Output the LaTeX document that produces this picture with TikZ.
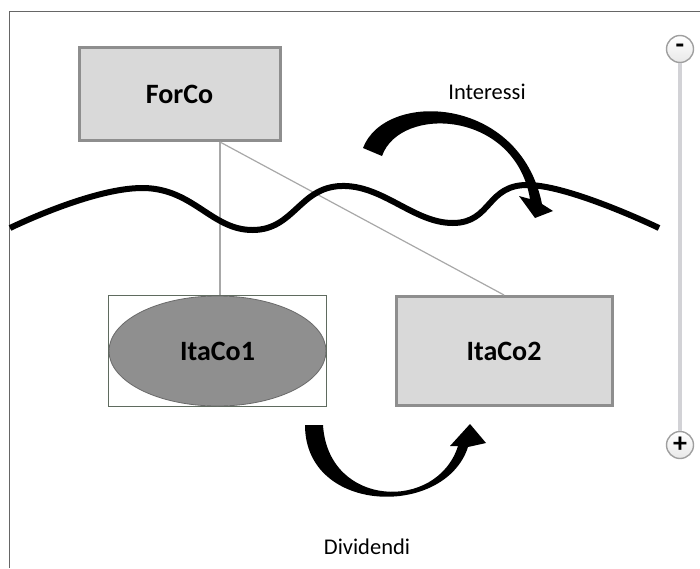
\documentclass[tikz,border=0pt]{standalone}
\usepackage{fontspec}
\setmainfont{Carlito}
\usetikzlibrary{shapes.geometric}
\definecolor{boxgray}{HTML}{D9D9D9}
\definecolor{edgegray}{HTML}{8E8E8E}
\definecolor{ovalgray}{HTML}{8F8F8F}
\definecolor{ovaledge}{HTML}{6A6A6A}
\definecolor{framegreen}{HTML}{5F6B5F}
\definecolor{linkgray}{HTML}{A8A8A8}
\definecolor{railgray}{HTML}{D2D2D6}

\begin{document}
\begin{tikzpicture}[x=1pt, y=-1pt, every node/.style={align=center},
  company/.style={draw=edgegray, line width=3pt, fill=boxgray, minimum width=201pt, minimum height=93pt, font=\fontsize{28}{30}\selectfont\bfseries},
  oval/.style={ellipse, draw=ovaledge, line width=0.8pt, fill=ovalgray, minimum width=217pt, minimum height=110pt, inner sep=0pt, font=\fontsize{28}{30}\selectfont\bfseries},
  link/.style={draw=linkgray, line width=1.2pt},
  wave/.style={line width=6pt},
  flow/.style={fill=black},
  caption/.style={font=\fontsize{22.5}{25}\selectfont},
  knob/.style={circle, draw=gray!75, line width=1.4pt, top color=white, bottom color=gray!18, minimum size=27pt, inner sep=0pt, font=\fontsize{28}{28}\selectfont\bfseries}]
\useasboundingbox (0,0) rectangle (700,568);

% Frame
\draw[gray!80!black, line width=1pt] (9,568) -- (9,11) -- (700,11);

% Companies
\node[company] (forco) at (179.5,94) {ForCo};
\node[draw=framegreen, line width=1.2pt, fill=white, minimum width=218pt, minimum height=111pt] (itabox1) at (217.5,351) {};
\node[oval] (itaco1) at (itabox1) {ItaCo1};
\node[company, minimum width=216pt, minimum height=109pt] (itaco2) at (504,351) {ItaCo2};

% Links
\coordinate (split) at (220,142);
\draw[link] (split) -- (split |- itabox1.north);
\draw[link] (split) -- (itaco2.north);

% Border line
\draw[wave] plot[smooth, tension=0.75] coordinates {(10,228) (143,188) (253,230) (341,186) (453,223) (529,185) (659,228)};

% Interest flow
\fill[flow] (363,148) .. controls (385,90) and (520,95) .. (542,204)
  -- (553,211) -- (535,218) -- (519,196) -- (530,199)
  .. controls (515,110) and (400,105) .. (382,156) -- cycle;
\node[caption] (interessi) at (487,92) {Interessi};

% Dividend flow
\fill[flow] (305,425) .. controls (305,515) and (445,518) .. (468,447)
  -- (486,443) -- (470,424) -- (450,446) -- (458,446)
  .. controls (437,512) and (328,508) .. (323,425) -- cycle;
\node[caption] (dividendi) at (367,547) {Dividendi};

% Scale
\node[knob] (minus) at (680,49) {-};
\node[knob] (plus) at (680,445) {+};
\draw[draw=railgray, line width=4pt] (minus) -- (plus);
\end{tikzpicture}
\end{document}
